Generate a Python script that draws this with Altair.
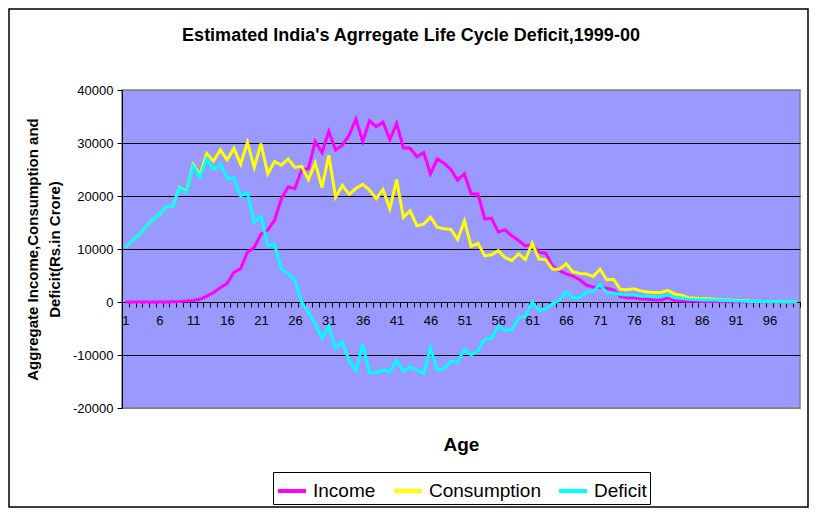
import altair as alt
import pandas as pd

ages = list(range(1, 101))

income = [
    0, 0, 0, 0, 0, 0, 0, 50, 100, 200,
    300, 500, 1100, 1800, 2700, 3500, 5600, 6300, 9400, 10300,
    12800, 13600, 15400, 19500, 21700, 21400, 24900, 25200, 30300, 28200,
    32200, 28700, 29600, 31500, 34500, 30300, 34200, 33100, 33900, 30600,
    33700, 29100, 29000, 27400, 28200, 24200, 27000, 26200, 25000, 23000,
    24200, 20400, 20400, 15700, 15800, 13200, 13600, 12500, 11600, 10600,
    10800, 9400, 9200, 6800, 5900, 5300, 4900, 4200, 3200, 2800,
    2800, 2600, 2300, 1000, 800, 800, 600, 500, 400, 400,
    800, 300, 200, 150, 120, 100, 100, 80, 80, 60,
    60, 50, 50, 40, 40, 30, 30, 20, 20, 20,
]

consumption = [
    10300, 11600, 12700, 14200, 15500, 16500, 18000, 18100, 21600, 20800,
    25900, 24000, 28000, 26600, 28700, 26800, 29000, 26000, 30100, 25400,
    29900, 24200, 26500, 25800, 27000, 25400, 25600, 23100, 26300, 21600,
    27700, 19800, 22000, 20300, 21400, 22200, 21100, 19500, 21200, 17600,
    23100, 16000, 17200, 14400, 14700, 16000, 14100, 13800, 13700, 11800,
    15300, 10500, 11100, 8700, 8900, 9700, 8400, 7800, 9100, 8000,
    11100, 8100, 8000, 6200, 6200, 7200, 5700, 5400, 5300, 4800,
    6200, 4200, 4300, 2400, 2300, 2500, 2100, 1900, 1800, 1800,
    2200, 1500, 1300, 800, 700, 600, 600, 500, 400, 400,
    300, 300, 200, 150, 100, 100, 80, 60, 50, 50,
]

deficit = [
    10300, 11600, 12700, 14200, 15500, 16500, 18000, 18000, 21500, 20600,
    25600, 23500, 27000, 25000, 26000, 23400, 23400, 20000, 20600, 15100,
    16200, 10600, 10900, 6200, 5300, 4100, 0, -2000, -4200, -6800,
    -4600, -8700, -7500, -11100, -13000, -8000, -13300, -13400, -12800, -13200,
    -11000, -13000, -12300, -12800, -13500, -8700, -12800, -12600, -11200, -11300,
    -9000, -10000, -9200, -7000, -6900, -4600, -5400, -5200, -3000, -2700,
    0, -1600, -1300, -300, 300, 1900, 800, 800, 1900, 2000,
    3300, 1700, 1700, 1400, 1300, 1300, 1100, 1100, 1000, 1000,
    1300, 800, 700, 500, 450, 400, 400, 400, 300, 300,
    200, 200, 150, 100, 80, 70, 50, 40, 30, 30,
]

series_names = ["Income", "Consumption", "Deficit"]
series_colors = ["#FF00FF", "#FFFF00", "#00FFFF"]
y_ticks = [-20000, -10000, 0, 10000, 20000, 30000, 40000]

title_text = "Estimated India's Agrregate Life Cycle Deficit,1999-00"
y_title = ["Aggregate Income,Consumption and", "Deficit(Rs.in Crore)"]
x_title = "Age"

rows = []
for name, vals in zip(series_names, [income, consumption, deficit]):
    for a, v in zip(ages, vals):
        rows.append({"Age": a, "Series": name, "Value": v})
df = pd.DataFrame(rows)

W, H = 678, 318
FONT = "Liberation Sans"
half = W / 100 / 2

x_enc = alt.X(
    "Age:Q",
    scale=alt.Scale(domain=[0.5, 100.5], nice=False, zero=False),
    axis=alt.Axis(
        values=ages,
        tickOffset=half,
        labelOffset=-half,
        labelExpr="(datum.value - 1) % 5 == 0 ? '' + datum.value : ''",
        labelOverlap=False,
        labelFlush=False,
        labelFontSize=13,
        labelFont=FONT,
        labelColor="black",
        labelPadding=7,
        tickSize=5,
        tickColor="black",
        domainColor="black",
        domainWidth=1,
        grid=False,
        offset=-106,
        title=x_title,
        titleFont=FONT,
        titleFontSize=19,
        titleFontWeight="bold",
        titleColor="black",
        titleBaseline="alphabetic",
        titleY=148,
    ),
)

y_enc = alt.Y(
    "Value:Q",
    scale=alt.Scale(domain=[-20000, 40000], nice=False, zero=False),
    axis=alt.Axis(
        values=y_ticks,
        labelExpr="'' + datum.value",
        labelFontSize=13,
        labelFont=FONT,
        labelColor="black",
        labelPadding=4,
        tickSize=5,
        tickColor="black",
        domainColor="black",
        domainWidth=1,
        grid=True,
        gridColor={
            "condition": {
                "test": "datum.value === 40000 || datum.value === -20000",
                "value": "#808080",
            },
            "value": "black",
        },
        gridWidth=1,
        title=y_title,
        titleFont=FONT,
        titleFontSize=15,
        titleFontWeight="bold",
        titleColor="black",
        titleAngle=-90,
        titleBaseline="bottom",
        titleLineHeight=22,
        titleX=-82,
        titleY=159,
    ),
)

color_enc = alt.Color(
    "Series:N",
    scale=alt.Scale(domain=series_names, range=series_colors),
    legend=alt.Legend(
        title=None,
        orient="none",
        legendX=151,
        legendY=382,
        direction="horizontal",
        symbolType="stroke",
        symbolStrokeWidth=4,
        symbolSize=784,
        labelFontSize=19,
        labelFont=FONT,
        labelColor="black",
        labelOffset=5,
        columnPadding=10,
        padding=3,
        strokeColor="black",
        fillColor="white",
        cornerRadius=0,
    ),
)

base = alt.Chart(df)
layers = []
for name in series_names:
    layers.append(
        base.transform_filter(alt.datum.Series == name)
        .mark_line(strokeWidth=3)
        .encode(x=x_enc, y=y_enc, color=color_enc)
    )

frame = (
    alt.Chart(alt.Data(values=[{"f": 1}]))
    .mark_rect(fillOpacity=0, stroke="black", strokeWidth=1.5)
    .encode(x=alt.value(-113), x2=alt.value(686), y=alt.value(-81), y2=alt.value(417))
)

chart = (
    alt.layer(*layers, frame)
    .properties(
        width=W,
        height=H,
        autosize=alt.AutoSizeParams(type="none"),
        padding={"left": 114, "top": 82, "right": 9, "bottom": 101},
        view=alt.ViewBackground(fill="#9999FF", stroke="#808080", strokeWidth=1.5),
        title=alt.TitleParams(
            text=title_text,
            font=FONT,
            fontSize=18,
            fontWeight="bold",
            color="black",
            anchor="middle",
            frame="group",
            dx=-50,
            offset=-37,
        ),
    )
    .configure(font=FONT)
)

chart.save("out.html", embed_options={"renderer": "svg", "actions": False})
